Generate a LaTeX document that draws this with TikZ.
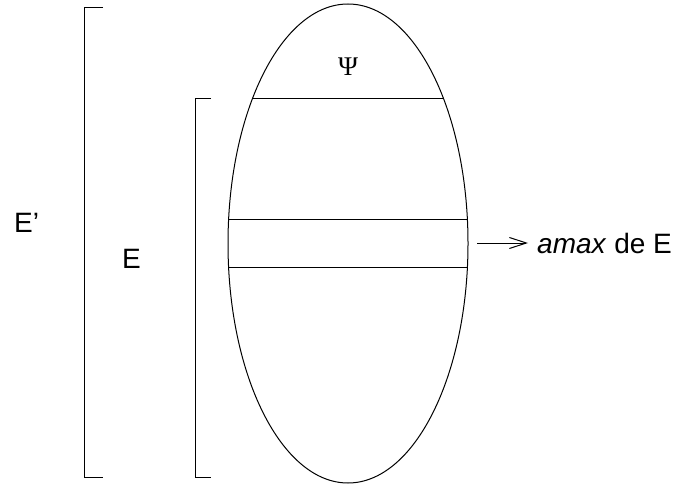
\documentclass[tikz,border=0pt]{standalone}
\usepackage{fontspec}
\setmainfont{Liberation Sans}
\newfontfamily\serifpsi{Liberation Serif}
\usetikzlibrary{arrows.meta,shapes.geometric}
\tikzset{
  lbl/.style={inner sep=0pt, anchor=base west, font=\fontsize{28}{33}\selectfont},
  thinline/.style={line width=1pt, black},
}
\begin{document}
\begin{tikzpicture}[x=1pt,y=-1pt]
\useasboundingbox (0,0) rectangle (677,489);
% ellipse
\draw[thinline] (348,243.5) ellipse [x radius=120, y radius=239.5];
% horizontal lines inside ellipse
\draw[thinline] (252,99) -- (444,99);
\draw[thinline] (228.6,219.5) -- (467.4,219.5);
\draw[thinline] (228.6,267.5) -- (467.4,267.5);
% brackets
\draw[thinline] (103,8) -- (84,8) -- (84,477) -- (103,477);
\draw[thinline] (211,99) -- (195,99) -- (195,477) -- (211,477);
% labels
\node[inner sep=0pt, font=\serifpsi\fontsize{27}{32}\selectfont] (psi) at (348,67) {Ψ};
\node[lbl] (eprime) at (14,232) {E’};
\node[lbl] (e) at (122,268) {E};
\node[lbl] (amax) at (537,253) {\textit{amax} de E};
\coordinate (astart) at (477,243);
\draw[thinline, -{Straight Barb[length=17pt,width=11pt,line width=1pt]}] (astart) -- (528,243);
\end{tikzpicture}
\end{document}
